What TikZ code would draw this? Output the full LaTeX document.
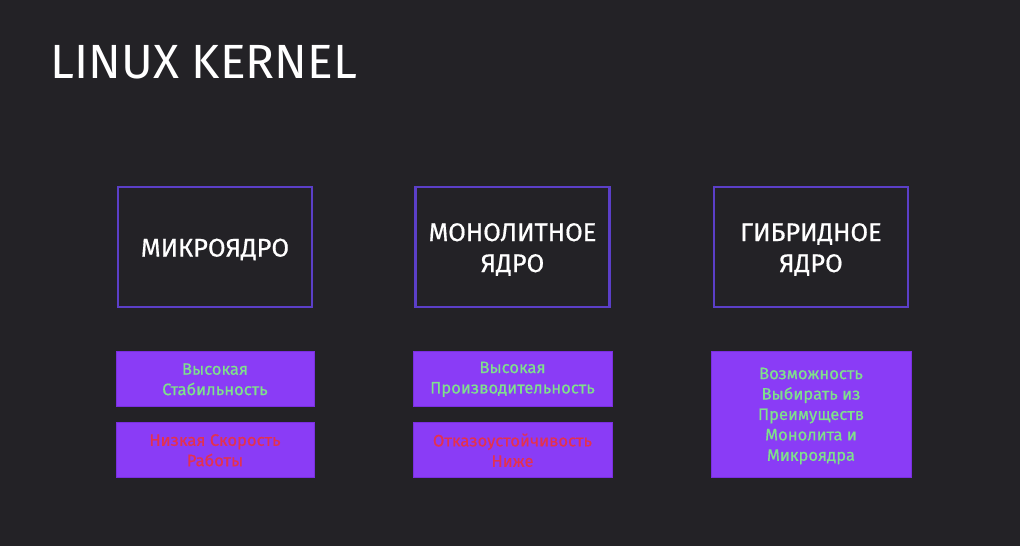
\documentclass[tikz,border=0pt]{standalone}
\usepackage{fontspec}
\setmainfont{Fira Sans}
\newfontfamily\boxfont[FakeBold=0.6]{Fira Sans}
\newfontfamily\titlefont{Fira Sans}
\definecolor{bgdark}{HTML}{232226}
\definecolor{frameline}{HTML}{5B3FC8}
\definecolor{boxfill}{HTML}{8A3CF6}
\definecolor{boxedge}{HTML}{7A2FE0}
\definecolor{goodtxt}{HTML}{80E08C}
\definecolor{badtxt}{HTML}{E4324E}
\begin{document}
\begin{tikzpicture}[x=1pt,y=-1pt,
  kernelbox/.style={draw=frameline,line width=2.6pt,fill=bgdark,
    minimum width=194pt,minimum height=120pt},
  kerneltext/.style={text=white,align=center,inner sep=0pt,
    font=\boxfont\fontsize{25.5}{31}\selectfont},
  notebox/.style={draw=boxedge,line width=0.8pt,fill=boxfill,
    minimum width=198pt,minimum height=55pt},
  notetext/.style={align=center,inner sep=0pt,
    font=\boxfont\fontsize{16.6}{20.4}\selectfont},
  good/.style={notetext,text=goodtxt},
  bad/.style={notetext,text=badtxt}]
\useasboundingbox (0,0) rectangle (1022,549);
\fill[white] (0,0) rectangle (1022,549);
\fill[bgdark] (0,0) rectangle (1020,546);
\node[anchor=base west,text=white,inner sep=0pt,font=\titlefont\fontsize{48}{56}\selectfont] (title) at (50.5,78) {LINUX KERNEL};
\node[kernelbox] (micro) at (215,247) {};
\node[kernelbox] (mono) at (512.5,247) {};
\node[kernelbox] (hybrid) at (811,247) {};
\node[kerneltext] (microtext) at ([yshift=-2.5pt]micro.center) {МИКРОЯДРО};
\node[kerneltext] (monotext) at ([yshift=-2.5pt]mono.center) {МОНОЛИТНОЕ\\ЯДРО};
\node[kerneltext] (hybridtext) at ([yshift=-2.5pt]hybrid.center) {ГИБРИДНОЕ\\ЯДРО};
\node[notebox] (micropro) at (215,378.5) {};
\node[notebox] (microcon) at (215,449.5) {};
\node[notebox,minimum width=199pt] (monopro) at (512.5,378.5) {};
\node[notebox,minimum width=199pt] (monocon) at (512.5,449.5) {};
\node[notebox,minimum width=200pt,minimum height=126pt] (hybridpro) at (811,414) {};
\node[good] (microprotext) at ([yshift=-0.8pt]micropro.center) {Высокая\\Стабильность};
\node[bad] (microcontext) at ([yshift=-0.8pt]microcon.center) {Низкая Скорость\\Работы};
\node[good] (monoprotext) at ([yshift=-0.8pt]monopro.center) {Высокая\\Производительность};
\node[bad] (monocontext) at ([yshift=-0.8pt]monocon.center) {Отказоустойчивость\\Ниже};
\node[good] (hybridprotext) at ([yshift=-2pt]hybridpro.center) {Возможность\\Выбирать из\\Преимуществ\\Монолита и\\Микроядра};
\end{tikzpicture}
\end{document}
